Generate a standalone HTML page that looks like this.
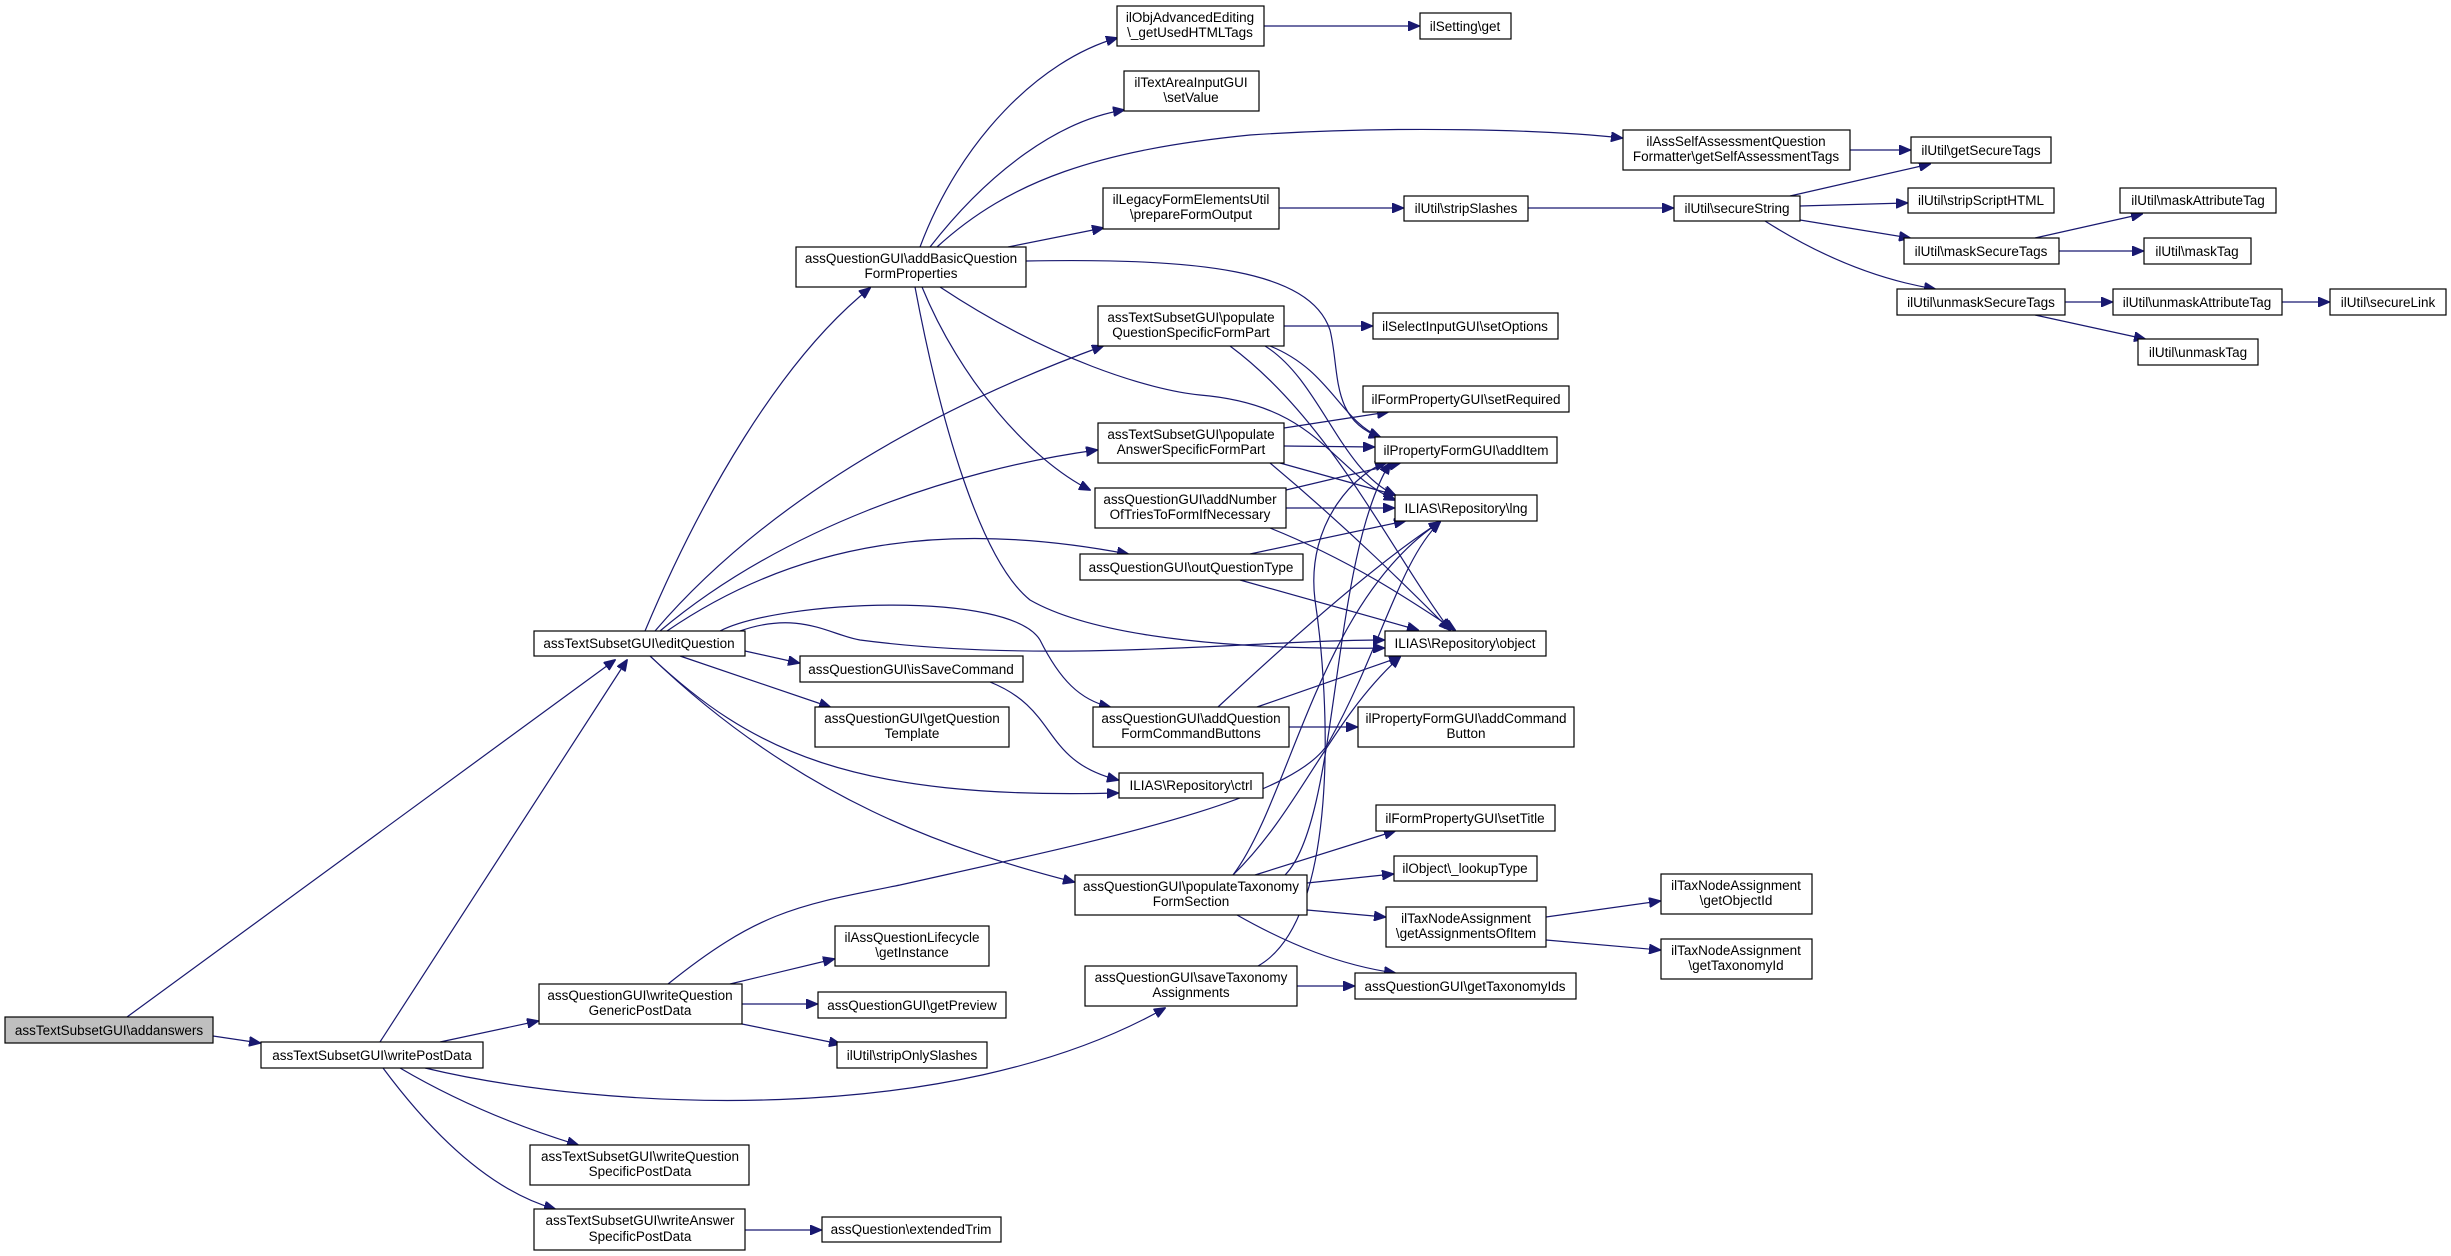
<!DOCTYPE html>
<html><head><meta charset="utf-8"><style>
html,body{margin:0;padding:0;background:#fff;}
svg{display:block}
text{font-family:"Liberation Sans",Arial,sans-serif;font-size:13.5px;fill:#000;text-anchor:middle}
.e{fill:none;stroke:#191970;stroke-width:1.2}
rect{fill:#fff;stroke:#000;stroke-width:1.2}
</style></head><body>
<svg width="2451" height="1256" viewBox="0 0 2451 1256" xmlns="http://www.w3.org/2000/svg">
<defs><marker id="a" markerWidth="12" markerHeight="10" refX="11" refY="5" orient="auto" markerUnits="userSpaceOnUse"><path d="M0,0 L12,5 L0,10 z" fill="#191970" stroke="#191970"/></marker></defs>
<g class="edges">
<path class="e" marker-end="url(#a)" d="M127,1017 L615,660"/>
<path class="e" marker-end="url(#a)" d="M213,1036 L260,1043"/>
<path class="e" marker-end="url(#a)" d="M380,1042 L627,660"/>
<path class="e" marker-end="url(#a)" d="M440,1042 L538,1021"/>
<path class="e" marker-end="url(#a)" d="M425,1068 C600,1110 950,1130 1165,1008"/>
<path class="e" marker-end="url(#a)" d="M400,1068 Q480,1115 578,1145"/>
<path class="e" marker-end="url(#a)" d="M383,1068 Q470,1185 555,1209"/>
<path class="e" marker-end="url(#a)" d="M668,984 C760,910 800,905 900,885 C1100,840 1300,800 1330,740 C1380,650 1400,560 1440,522"/>
<path class="e" marker-end="url(#a)" d="M730,984 L834,959"/>
<path class="e" marker-end="url(#a)" d="M742,1004 L817,1004"/>
<path class="e" marker-end="url(#a)" d="M742,1024 L840,1044"/>
<path class="e" marker-end="url(#a)" d="M645,631 C700,500 780,360 870,288"/>
<path class="e" marker-end="url(#a)" d="M655,631 C750,520 900,420 1103,346"/>
<path class="e" marker-end="url(#a)" d="M660,631 C780,530 950,470 1097,450"/>
<path class="e" marker-end="url(#a)" d="M667,631 C800,540 950,520 1128,554"/>
<path class="e" marker-end="url(#a)" d="M745,651 L799,663"/>
<path class="e" marker-end="url(#a)" d="M680,656 L830,707"/>
<path class="e" marker-end="url(#a)" d="M650,656 C750,750 850,800 1118,793"/>
<path class="e" marker-end="url(#a)" d="M650,656 C800,800 950,850 1074,882"/>
<path class="e" marker-end="url(#a)" d="M740,631 C800,610 830,635 860,640 C1050,665 1250,640 1384,640"/>
<path class="e" marker-end="url(#a)" d="M720,631 C780,600 1010,590 1040,640 C1060,680 1080,700 1110,707"/>
<path class="e" marker-end="url(#a)" d="M990,682 C1060,710 1040,760 1118,780"/>
<path class="e" marker-end="url(#a)" d="M920,247 C960,140 1040,60 1117,38"/>
<path class="e" marker-end="url(#a)" d="M930,247 C990,170 1060,120 1124,110"/>
<path class="e" marker-end="url(#a)" d="M937,247 C1010,180 1100,150 1250,135 C1400,125 1550,130 1622,138"/>
<path class="e" marker-end="url(#a)" d="M1008,247 L1103,228"/>
<path class="e" marker-end="url(#a)" d="M1026,261 C1200,258 1310,270 1330,330 C1340,370 1330,420 1380,437"/>
<path class="e" marker-end="url(#a)" d="M940,287 C1050,360 1150,390 1200,395 C1320,405 1330,470 1395,500"/>
<path class="e" marker-end="url(#a)" d="M922,287 C960,380 1030,460 1090,490"/>
<path class="e" marker-end="url(#a)" d="M915,287 C940,420 980,560 1030,600 C1100,640 1250,650 1384,648"/>
<path class="e" marker-end="url(#a)" d="M1284,326 L1372,326"/>
<path class="e" marker-end="url(#a)" d="M1270,346 C1330,370 1340,420 1380,437"/>
<path class="e" marker-end="url(#a)" d="M1265,346 C1320,380 1340,470 1395,495"/>
<path class="e" marker-end="url(#a)" d="M1230,346 C1330,420 1390,550 1450,630"/>
<path class="e" marker-end="url(#a)" d="M1284,428 L1388,412"/>
<path class="e" marker-end="url(#a)" d="M1284,446 L1374,447"/>
<path class="e" marker-end="url(#a)" d="M1280,463 L1395,495"/>
<path class="e" marker-end="url(#a)" d="M1270,463 C1350,530 1410,590 1450,630"/>
<path class="e" marker-end="url(#a)" d="M1286,490 L1400,463"/>
<path class="e" marker-end="url(#a)" d="M1286,508 L1394,508"/>
<path class="e" marker-end="url(#a)" d="M1270,528 C1350,560 1410,600 1455,630"/>
<path class="e" marker-end="url(#a)" d="M1250,554 L1405,521"/>
<path class="e" marker-end="url(#a)" d="M1240,580 L1418,630"/>
<path class="e" marker-end="url(#a)" d="M1218,707 C1290,640 1380,560 1440,522"/>
<path class="e" marker-end="url(#a)" d="M1257,707 L1400,657"/>
<path class="e" marker-end="url(#a)" d="M1289,727 L1357,727"/>
<path class="e" marker-end="url(#a)" d="M1233,875 C1300,810 1330,720 1400,657" stroke-width="2.2"/>
<path class="e" marker-end="url(#a)" d="M1233,875 C1290,800 1320,600 1440,522"/>
<path class="e" marker-end="url(#a)" d="M1285,875 C1340,820 1330,560 1390,463"/>
<path class="e" marker-end="url(#a)" d="M1255,875 L1395,831"/>
<path class="e" marker-end="url(#a)" d="M1307,883 L1393,874"/>
<path class="e" marker-end="url(#a)" d="M1307,910 L1385,917"/>
<path class="e" marker-end="url(#a)" d="M1237,915 C1290,945 1340,965 1395,973"/>
<path class="e" marker-end="url(#a)" d="M1297,986 L1354,986"/>
<path class="e" marker-end="url(#a)" d="M1258,966 C1340,920 1330,700 1315,600 C1305,520 1360,470 1386,463"/>
<path class="e" marker-end="url(#a)" d="M1546,917 L1660,901"/>
<path class="e" marker-end="url(#a)" d="M1546,940 L1660,950"/>
<path class="e" marker-end="url(#a)" d="M745,1230 L821,1230"/>
<path class="e" marker-end="url(#a)" d="M1264,26 L1419,26"/>
<path class="e" marker-end="url(#a)" d="M1279,208 L1403,208"/>
<path class="e" marker-end="url(#a)" d="M1528,208 L1673,208"/>
<path class="e" marker-end="url(#a)" d="M1850,150 L1910,150"/>
<path class="e" marker-end="url(#a)" d="M1790,196 L1930,164"/>
<path class="e" marker-end="url(#a)" d="M1800,206 L1907,203"/>
<path class="e" marker-end="url(#a)" d="M1800,220 L1910,238"/>
<path class="e" marker-end="url(#a)" d="M1765,221 Q1850,275 1935,289"/>
<path class="e" marker-end="url(#a)" d="M2035,238 L2142,214"/>
<path class="e" marker-end="url(#a)" d="M2059,251 L2143,251"/>
<path class="e" marker-end="url(#a)" d="M2065,302 L2112,302"/>
<path class="e" marker-end="url(#a)" d="M2035,315 L2145,339"/>
<path class="e" marker-end="url(#a)" d="M2282,302 L2329,302"/>
</g>
<g>
<rect x="5" y="1017" width="208" height="26" style="fill:#bfbfbf"/><text x="109" y="1035">assTextSubsetGUI\addanswers</text>
<rect x="261" y="1042" width="222" height="26"/><text x="372" y="1060">assTextSubsetGUI\writePostData</text>
<rect x="534" y="631" width="211" height="25"/><text x="639" y="648">assTextSubsetGUI\editQuestion</text>
<rect x="539" y="984" width="203" height="40"/><text x="640" y="1000">assQuestionGUI\writeQuestion</text><text x="640" y="1015">GenericPostData</text>
<rect x="530" y="1145" width="219" height="40"/><text x="640" y="1161">assTextSubsetGUI\writeQuestion</text><text x="640" y="1176">SpecificPostData</text>
<rect x="534" y="1209" width="211" height="41"/><text x="640" y="1225">assTextSubsetGUI\writeAnswer</text><text x="640" y="1241">SpecificPostData</text>
<rect x="796" y="247" width="230" height="40"/><text x="911" y="263">assQuestionGUI\addBasicQuestion</text><text x="911" y="278">FormProperties</text>
<rect x="800" y="656" width="223" height="26"/><text x="911" y="674">assQuestionGUI\isSaveCommand</text>
<rect x="815" y="707" width="194" height="40"/><text x="912" y="723">assQuestionGUI\getQuestion</text><text x="912" y="738">Template</text>
<rect x="835" y="926" width="154" height="40"/><text x="912" y="942">ilAssQuestionLifecycle</text><text x="912" y="957">\getInstance</text>
<rect x="818" y="992" width="188" height="26"/><text x="912" y="1010">assQuestionGUI\getPreview</text>
<rect x="837" y="1042" width="150" height="26"/><text x="912" y="1060">ilUtil\stripOnlySlashes</text>
<rect x="822" y="1217" width="179" height="25"/><text x="911" y="1234">assQuestion\extendedTrim</text>
<rect x="1117" y="6" width="147" height="40"/><text x="1190" y="22">ilObjAdvancedEditing</text><text x="1190" y="37">\_getUsedHTMLTags</text>
<rect x="1124" y="71" width="135" height="40"/><text x="1191" y="87">ilTextAreaInputGUI</text><text x="1191" y="102">\setValue</text>
<rect x="1103" y="188" width="176" height="41"/><text x="1191" y="204">ilLegacyFormElementsUtil</text><text x="1191" y="219">\prepareFormOutput</text>
<rect x="1098" y="306" width="186" height="40"/><text x="1191" y="322">assTextSubsetGUI\populate</text><text x="1191" y="337">QuestionSpecificFormPart</text>
<rect x="1098" y="423" width="186" height="40"/><text x="1191" y="439">assTextSubsetGUI\populate</text><text x="1191" y="454">AnswerSpecificFormPart</text>
<rect x="1095" y="488" width="191" height="40"/><text x="1190" y="504">assQuestionGUI\addNumber</text><text x="1190" y="519">OfTriesToFormIfNecessary</text>
<rect x="1080" y="554" width="223" height="26"/><text x="1191" y="572">assQuestionGUI\outQuestionType</text>
<rect x="1093" y="707" width="196" height="40"/><text x="1191" y="723">assQuestionGUI\addQuestion</text><text x="1191" y="738">FormCommandButtons</text>
<rect x="1119" y="773" width="144" height="25"/><text x="1191" y="790">ILIAS\Repository\ctrl</text>
<rect x="1075" y="875" width="232" height="40"/><text x="1191" y="891">assQuestionGUI\populateTaxonomy</text><text x="1191" y="906">FormSection</text>
<rect x="1085" y="966" width="212" height="40"/><text x="1191" y="982">assQuestionGUI\saveTaxonomy</text><text x="1191" y="997">Assignments</text>
<rect x="1420" y="13" width="91" height="26"/><text x="1465" y="31">ilSetting\get</text>
<rect x="1404" y="196" width="124" height="25"/><text x="1466" y="213">ilUtil\stripSlashes</text>
<rect x="1373" y="313" width="185" height="26"/><text x="1465" y="331">ilSelectInputGUI\setOptions</text>
<rect x="1363" y="386" width="206" height="26"/><text x="1466" y="404">ilFormPropertyGUI\setRequired</text>
<rect x="1375" y="437" width="182" height="26"/><text x="1466" y="455">ilPropertyFormGUI\addItem</text>
<rect x="1395" y="495" width="142" height="26"/><text x="1466" y="513">ILIAS\Repository\lng</text>
<rect x="1385" y="631" width="161" height="25"/><text x="1465" y="648">ILIAS\Repository\object</text>
<rect x="1358" y="707" width="216" height="40"/><text x="1466" y="723">ilPropertyFormGUI\addCommand</text><text x="1466" y="738">Button</text>
<rect x="1376" y="805" width="179" height="26"/><text x="1465" y="823">ilFormPropertyGUI\setTitle</text>
<rect x="1394" y="856" width="143" height="25"/><text x="1465" y="873">ilObject\_lookupType</text>
<rect x="1386" y="907" width="160" height="40"/><text x="1466" y="923">ilTaxNodeAssignment</text><text x="1466" y="938">\getAssignmentsOfItem</text>
<rect x="1355" y="973" width="221" height="26"/><text x="1465" y="991">assQuestionGUI\getTaxonomyIds</text>
<rect x="1623" y="130" width="227" height="40"/><text x="1736" y="146">ilAssSelfAssessmentQuestion</text><text x="1736" y="161">Formatter\getSelfAssessmentTags</text>
<rect x="1674" y="196" width="126" height="25"/><text x="1737" y="213">ilUtil\secureString</text>
<rect x="1661" y="874" width="151" height="40"/><text x="1736" y="890">ilTaxNodeAssignment</text><text x="1736" y="905">\getObjectId</text>
<rect x="1661" y="939" width="151" height="40"/><text x="1736" y="955">ilTaxNodeAssignment</text><text x="1736" y="970">\getTaxonomyId</text>
<rect x="1911" y="137" width="140" height="26"/><text x="1981" y="155">ilUtil\getSecureTags</text>
<rect x="1908" y="188" width="146" height="25"/><text x="1981" y="205">ilUtil\stripScriptHTML</text>
<rect x="1904" y="238" width="155" height="26"/><text x="1981" y="256">ilUtil\maskSecureTags</text>
<rect x="1897" y="289" width="168" height="26"/><text x="1981" y="307">ilUtil\unmaskSecureTags</text>
<rect x="2120" y="188" width="156" height="25"/><text x="2198" y="205">ilUtil\maskAttributeTag</text>
<rect x="2144" y="238" width="107" height="26"/><text x="2197" y="256">ilUtil\maskTag</text>
<rect x="2113" y="289" width="169" height="26"/><text x="2197" y="307">ilUtil\unmaskAttributeTag</text>
<rect x="2138" y="339" width="120" height="26"/><text x="2198" y="357">ilUtil\unmaskTag</text>
<rect x="2330" y="289" width="116" height="26"/><text x="2388" y="307">ilUtil\secureLink</text>
</g>
</svg>
</body></html>
